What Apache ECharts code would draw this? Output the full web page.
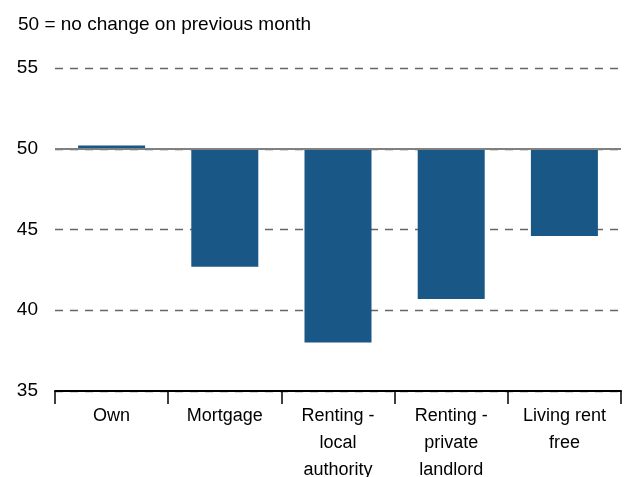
<!DOCTYPE html>
<html>
<head>
    <meta charset="UTF-8">
    <title>tenure chart</title>
    <script type="text/javascript" src="https://cdn.jsdelivr.net/npm/echarts@6/dist/echarts.min.js"></script>
    <style>
        html, body { margin: 0; padding: 0; background: #fff; }
        #charts { width: 636px; height: 477px; }
    </style>
</head>
<body>
<div id="charts"></div>
<script type="text/javascript">
    // data
    var categories = ['Own', 'Mortgage', 'Renting -\nlocal\nauthority', 'Renting -\nprivate\nlandlord', 'Living rent\nfree'];
    var values = [50.2, 42.7, 38.0, 40.7, 44.6];
    var baseline = 50;
    var yTicks = [35, 40, 45, 50, 55];

    // bars hang from the 50 line: invisible base + visible part
    var baseVals = [];
    var diffVals = [];
    for (var i = 0; i < values.length; i++) {
        baseVals.push(Math.min(values[i], baseline));
        diffVals.push(Math.abs(values[i] - baseline));
    }

    var myChart = echarts.init(document.getElementById('charts'));
    var font = 'Liberation Sans, Arial, sans-serif';
    var option = {
        animation: false,
        title: {
            text: '50 = no change on previous month',
            left: 13,
            top: 10,
            textStyle: { fontFamily: font, fontSize: 19, fontWeight: 'normal', color: '#000' }
        },
        grid: { left: 55, right: 15, top: 68, bottom: 86, outerBoundsMode: 'none', containLabel: false },
        xAxis: {
            type: 'category',
            data: categories,
            axisLine: { lineStyle: { color: '#000', width: 2 } },
            axisTick: { show: true, length: 13, lineStyle: { color: '#000', width: 1.5 } },
            axisLabel: {
                interval: 0,
                margin: 12,
                fontFamily: font,
                fontSize: 18,
                lineHeight: 27,
                color: '#000'
            }
        },
        yAxis: {
            type: 'value',
            min: yTicks[0],
            max: yTicks[yTicks.length - 1],
            interval: 5,
            axisLine: { show: false },
            axisTick: { show: false },
            axisLabel: { fontFamily: font, fontSize: 19, color: '#000', margin: 17 },
            splitLine: { lineStyle: { color: '#666', type: [8, 7], width: 1.3 } }
        },
        series: [
            {
                type: 'bar',
                stack: 'b',
                data: baseVals,
                barWidth: 67,
                itemStyle: { color: 'transparent' },
                silent: true,
                markLine: {
                    silent: true,
                    symbol: 'none',
                    label: { show: false },
                    lineStyle: { color: '#808080', type: 'solid', width: 2 },
                    data: [{ yAxis: baseline }]
                }
            },
            {
                type: 'bar',
                stack: 'b',
                data: diffVals,
                barWidth: 67,
                itemStyle: { color: '#185786' }
            }
        ]
    };
    option && myChart.setOption(option);
</script>
</body>
</html>
